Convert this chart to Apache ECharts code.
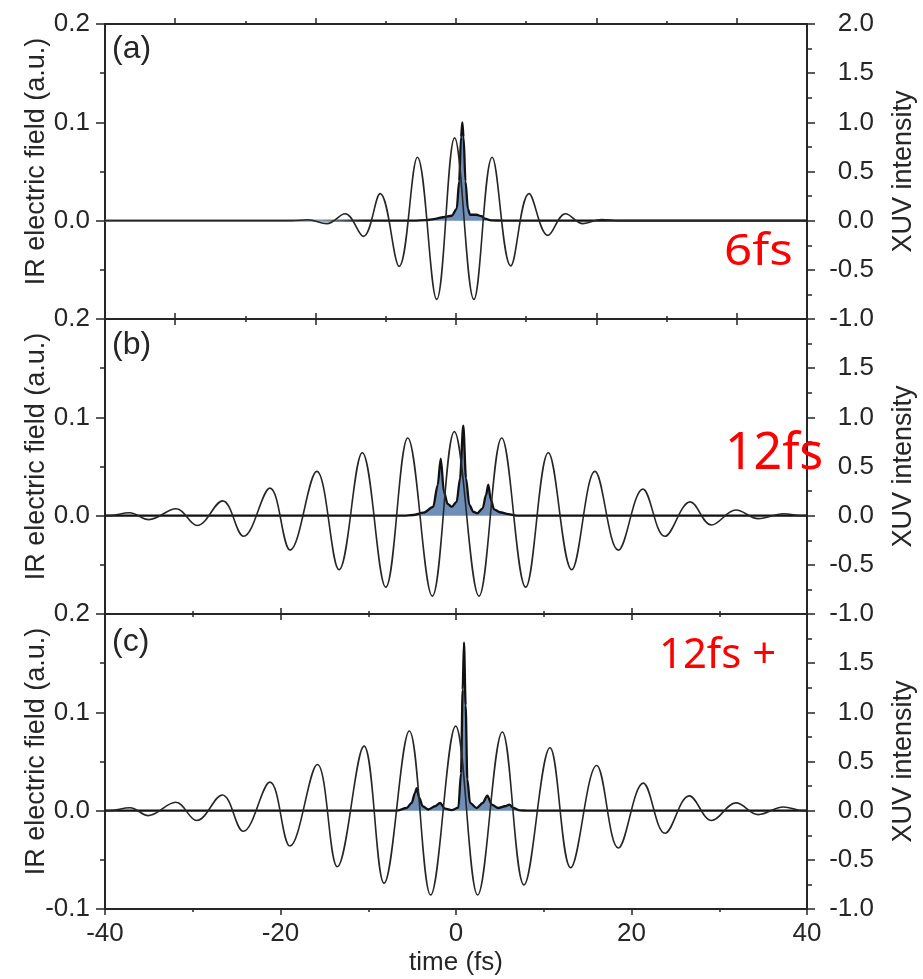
<!DOCTYPE html>
<html>
<head>
<meta charset="utf-8">
<title>IR field and XUV intensity</title>
<script src="https://cdn.jsdelivr.net/npm/echarts@6/dist/echarts.min.js"></script>
<style>
  html, body { margin: 0; padding: 0; background: #ffffff; }
  #chart { width: 923px; height: 979px; }
</style>
</head>
<body>
<div id="chart"></div>
<script>
// ---- data: [time (fs), value] -------------------------------------------
// IR electric field (a.u.): successive maxima and minima of each trace
const irA = [
  [-50, 0], [-23.5, 0], [-21.1, 0.001], [-18.4, -0.003], [-15.8, 0.007],
  [-13.2, -0.016], [-10.8, 0.0275], [-8.1, -0.0465], [-5.5, 0.0645],
  [-2.75, -0.080], [-0.2, 0.0842], [2.55, -0.080], [5.15, 0.0645],
  [7.8, -0.046], [10.4, 0.0275], [13.1, -0.015], [15.6, 0.007],
  [18.1, -0.003], [20.7, 0.0012], [23.3, 0], [50, 0]
];
const irB = [
  [-40, 0], [-39.6, 0], [-37.2, 0.003], [-35.0, -0.004], [-31.9, 0.007],
  [-29.5, -0.010], [-26.6, 0.015], [-24.2, -0.021], [-21.2, 0.028],
  [-18.9, -0.035], [-15.87, 0.045], [-13.33, -0.055], [-10.68, 0.064],
  [-8.01, -0.0727], [-5.5, 0.079], [-2.70, -0.0818], [-0.19, 0.0855],
  [2.62, -0.0818], [5.21, 0.079], [7.94, -0.0727], [10.52, 0.064],
  [13.19, -0.055], [15.84, 0.045], [18.5, -0.035], [21.3, 0.027],
  [23.8, -0.021], [26.7, 0.014], [29.1, -0.0095], [31.9, 0.0057],
  [34.45, -0.003], [37.3, 0.002], [39.6, 0], [40, 0]
];
const irC = [
  [-40, 0], [-39.6, 0], [-37.15, 0.003], [-35.07, -0.005], [-31.94, 0.0085],
  [-29.55, -0.010], [-26.63, 0.016], [-24.24, -0.021], [-21.2, 0.029],
  [-18.92, -0.036], [-15.8, 0.047], [-13.53, -0.057], [-10.48, 0.0656],
  [-8.2, -0.0738], [-5.32, 0.081], [-2.89, -0.0857], [-0.04, 0.086],
  [2.47, -0.0857], [5.28, 0.080], [7.75, -0.0755], [10.71, 0.064],
  [13.07, -0.058], [16.03, 0.046], [18.5, -0.038], [21.34, 0.028],
  [23.82, -0.023], [26.59, 0.015], [29.14, -0.010], [31.91, 0.0079],
  [34.45, -0.004], [37.3, 0.0038], [39.6, 0], [40, 0]
];

// XUV intensity (arb. units)
const xuvA = [
  [-50, 0], [-6, 0], [-4.2, 0.005], [-3.2, 0.015], [-1.8, 0.035], [-0.6, 0.05],
  [0.1, 0.12], [0.45, 0.4], [0.72, 0.85], [0.9, 1.0], [1.08, 0.85], [1.35, 0.4],
  [1.7, 0.12], [2.0, 0.06], [2.9, 0.06], [3.66, 0.045], [4.1, 0.02],
  [5.0, 0.003], [7, 0], [50, 0]
];
const xuvB = [
  [-40, 0], [-6, 0], [-4.87, 0.007], [-3.72, 0.03], [-2.6, 0.09], [-2.09, 0.31],
  [-1.74, 0.58], [-1.37, 0.24], [-0.95, 0.12], [-0.49, 0.09], [0.07, 0.14],
  [0.46, 0.38], [0.83, 0.915], [1.14, 0.38], [1.52, 0.11], [1.97, 0.04],
  [2.43, 0.025], [3.04, 0.075], [3.42, 0.21], [3.68, 0.316], [3.95, 0.17],
  [4.33, 0.065], [5.01, 0.035], [5.96, 0.015], [6.9, 0], [40, 0]
];
const xuvC = [
  [-40, 0], [-6.76, 0], [-5.62, 0.027], [-5.05, 0.08], [-4.67, 0.18],
  [-4.48, 0.23], [-4.18, 0.13], [-3.8, 0.045], [-3.15, 0.012], [-2.39, 0.045],
  [-1.82, 0.078], [-1.25, 0.02], [-0.5, 0.005], [0.27, 0.03], [0.57, 0.38],
  [0.76, 1.23], [0.91, 1.71], [1.1, 1.07], [1.29, 0.32], [1.6, 0.08],
  [2.36, 0.027], [3.04, 0.078], [3.57, 0.153], [4.07, 0.061], [4.82, 0.027],
  [5.58, 0.045], [6.08, 0.061], [6.53, 0.027], [7.29, 0.003], [8.1, 0], [40, 0]
];

// tick positions
const timeMajorWide = [-40, -20, 0, 20, 40];
const timeMinorWide = [-30, -10, 10, 30];
const panelLetters = ['(a)', '(b)', '(c)'];
const pulseNotes = ['6fs', '12fs', '12fs +'];
const irName = 'IR electric field (a.u.)';
const xuvName = 'XUV intensity';
const timeName = 'time (fs)';

// ---- styling ------------------------------------------------------------
const FONT = '"Liberation Sans", Arial, Helvetica, sans-serif';
const NOTE_FONT = '"Noto Sans", "Open Sans", sans-serif';
const INK = '#262626';
const GRID_LEFT = 105, GRID_W = 702, GRID_H = 295;
const GRID_TOPS = [24, 319, 614];

const lineStyle = { color: INK, width: 2 };

function fmt1(v) {
  if (Math.abs(v) < 1e-9) return '0.0';
  return v.toFixed(1);
}

// x axis carrying only tick marks at given values
function tickAxis(gridIndex, position, min, max, values, len, showLine) {
  return {
    type: 'value', gridIndex, position, min, max,
    axisLine: { show: showLine, onZero: false, lineStyle },
    axisTick: { show: true, customValues: values, length: len, lineStyle: { color: INK, width: 1.5 } },
    axisLabel: { show: false },
    splitLine: { show: false }
  };
}

// x axis with ticks every 20 fs and minor ticks every 10 fs
function stepAxis(gridIndex, position, labelled) {
  const ax = {
    type: 'value', gridIndex, position, min: -40, max: 40, interval: 20,
    axisLine: { show: true, onZero: false, lineStyle },
    axisTick: { show: true, length: 6, lineStyle: { color: INK, width: 1.5 } },
    minorTick: { show: true, splitNumber: 2, length: 3, lineStyle: { color: INK, width: 1.5 } },
    axisLabel: { show: labelled, fontFamily: FONT, fontSize: 26, color: INK, margin: 12 },
    splitLine: { show: false }
  };
  if (labelled) {
    Object.assign(ax, {
      name: timeName, nameLocation: 'middle', nameGap: 41, nameMoveOverlap: false,
      nameTextStyle: { fontFamily: FONT, fontSize: 26, color: INK }
    });
  }
  return ax;
}

function irAxis(gridIndex, hideBottom) {
  return {
    type: 'value', gridIndex, position: 'left', min: -0.1, max: 0.2, interval: 0.1,
    name: irName, nameLocation: 'middle', nameGap: 55, nameRotate: 90, nameMoveOverlap: false,
    // extra leading padding lifts the rotated title slightly above the panel centre
    nameTextStyle: { fontFamily: FONT, fontSize: 27, color: INK, padding: [0, 0, 0, 20] },
    axisLine: { show: true, onZero: false, lineStyle },
    axisTick: { show: true, length: 9, lineStyle: { color: INK, width: 1.5 } },
    minorTick: { show: true, splitNumber: 2, length: 5, lineStyle: { color: INK, width: 1.5 } },
    axisLabel: {
      fontFamily: FONT, fontSize: 26, color: INK, margin: 15,
      formatter: v => (hideBottom && v < -0.05) ? '' : fmt1(v)
    },
    splitLine: { show: false }
  };
}

function xuvAxis(gridIndex, hideTop) {
  return {
    type: 'value', gridIndex, position: 'right', min: -1, max: 2, interval: 0.5,
    name: xuvName, nameLocation: 'middle', nameGap: 83, nameRotate: 90, nameMoveOverlap: false,
    nameTextStyle: { fontFamily: FONT, fontSize: 27, color: INK },
    axisLine: { show: true, onZero: false, lineStyle },
    axisTick: { show: true, length: 8, lineStyle: { color: INK, width: 1.5 } },
    minorTick: { show: true, splitNumber: 2, length: 5, lineStyle: { color: INK, width: 1.5 } },
    axisLabel: {
      fontFamily: FONT, fontSize: 26, color: INK, margin: 67, align: 'right',
      formatter: v => (hideTop && v > 1.99) ? '' : fmt1(v)
    },
    splitLine: { show: false }
  };
}

function irSeries(data, xAxisIndex, yAxisIndex) {
  return {
    type: 'line', data, xAxisIndex, yAxisIndex, z: 3,
    showSymbol: false, smooth: 0.38,
    lineStyle: { color: '#262626', width: 1.6 },
    silent: true
  };
}

function xuvSeries(data, xAxisIndex, yAxisIndex, color) {
  return {
    type: 'line', data, xAxisIndex, yAxisIndex, z: 2,
    showSymbol: false, smooth: 0.3, smoothMonotone: 'x',
    lineStyle: { color: color || '#111111', width: 2.3 },
    areaStyle: { color: '#6f8fb8', opacity: 1 },
    silent: true
  };
}

// baseline of panel (a) fades to grey-blue on the early side
const fadedBaseline = {
  type: 'linear', x: 0, y: 0, x2: 1, y2: 0,
  colorStops: [
    { offset: 0, color: '#8197b0' }, { offset: 0.31, color: '#8197b0' },
    { offset: 0.37, color: '#111111' }, { offset: 1, color: '#111111' }
  ]
};

function note(text, x, y, size, sx) {
  return {
    type: 'text', x, y, z: 10, scaleX: sx,
    style: { text, font: size + 'px ' + NOTE_FONT, fill: '#ff0000', textVerticalAlign: 'middle' }
  };
}

function letter(text, y) {
  return { type: 'text', x: 112, y, style: { text, font: '32px ' + FONT, fill: INK, textVerticalAlign: 'top' } };
}

const option = {
  animation: false,
  backgroundColor: '#ffffff',
  textStyle: { fontFamily: FONT },
  grid: GRID_TOPS.map(top => ({
    left: GRID_LEFT, top, width: GRID_W, height: GRID_H,
    containLabel: false, outerBoundsMode: 'none'
  })),
  xAxis: [
    // panel (a): -50 .. 50 fs
    tickAxis(0, 'bottom', -50, 50, timeMajorWide, 6, true),   // 0
    tickAxis(0, 'bottom', -50, 50, timeMinorWide, 3, false),  // 1
    tickAxis(0, 'top', -50, 50, timeMajorWide, 6, true),      // 2
    tickAxis(0, 'top', -50, 50, timeMinorWide, 3, false),     // 3
    // panel (b)
    tickAxis(1, 'top', -50, 50, timeMajorWide, 6, true),      // 4
    tickAxis(1, 'top', -50, 50, timeMinorWide, 3, false),     // 5
    stepAxis(1, 'bottom', false),                             // 6
    // panel (c)
    stepAxis(2, 'top', false),                                // 7
    stepAxis(2, 'bottom', true)                               // 8
  ],
  yAxis: [
    irAxis(0, true), xuvAxis(0, false),
    irAxis(1, true), xuvAxis(1, true),
    irAxis(2, false), xuvAxis(2, true)
  ],
  series: [
    xuvSeries(xuvA, 0, 1, fadedBaseline), irSeries(irA, 0, 0),
    xuvSeries(xuvB, 6, 3), irSeries(irB, 6, 2),
    xuvSeries(xuvC, 8, 5), irSeries(irC, 8, 4)
  ],
  graphic: [
    letter(panelLetters[0], 33),
    letter(panelLetters[1], 329),
    letter(panelLetters[2], 626),
    note(pulseNotes[0], 724, 252, 44, 1.12),
    note(pulseNotes[1], 725, 454, 51, 0.98),
    note(pulseNotes[2], 659, 656, 41, 1.02)
  ]
};

const chart = echarts.init(document.getElementById('chart'), null, { renderer: 'canvas' });
chart.setOption(option);
</script>
</body>
</html>
